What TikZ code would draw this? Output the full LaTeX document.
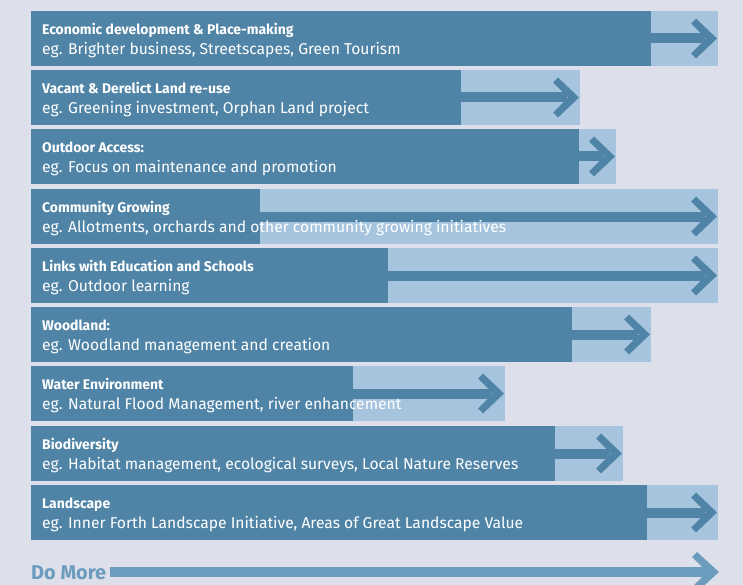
\documentclass[tikz,border=0pt]{standalone}
\usepackage{fontspec}
\setmainfont{Fira Sans}
\usetikzlibrary{calc}
\definecolor{bg}{HTML}{DDE0EA}
\definecolor{darkb}{HTML}{5084A7}
\definecolor{lightb}{HTML}{A6C4DE}
\definecolor{moreb}{HTML}{6B9BBD}
\tikzset{
  bar/.style={inner sep=0, outer sep=0, minimum height=55bp, anchor=north west},
  darkbar/.style={bar, fill=darkb},
  lightbar/.style={bar, fill=lightb},
  ttl/.style={anchor=base west, inner sep=0, text=white, font=\bfseries\fontsize{14}{15}\selectfont},
  sub/.style={anchor=base west, inner sep=0, text=white, font=\fontsize{15.7}{17}\selectfont},
}
\begin{document}
\begin{tikzpicture}[x=1bp,y=-1bp]
\fill[bg] (0,0) rectangle (743,585);
\useasboundingbox (0,0) rectangle (743,585);
\foreach \i/\t/\de/\le/\ti/\su in {
  1/11/651/718/{Economic development \& Place-making}/{eg. Brighter business, Streetscapes, Green Tourism},
  2/70/461/580/{Vacant \& Derelict Land re-use}/{eg. Greening investment, Orphan Land project},
  3/129/579/616/{Outdoor Access:}/{eg. Focus on maintenance and promotion},
  4/189/260/718/{Community Growing}/{eg. Allotments, orchards and other community growing initiatives},
  5/248/388/718/{Links with Education and Schools}/{eg. Outdoor learning},
  6/307/572/651/{Woodland:}/{eg. Woodland management and creation},
  7/366/353/505/{Water Environment}/{eg. Natural Flood Management, river enhancement},
  8/426/555/623/{Biodiversity}/{eg. Habitat management, ecological surveys, Local Nature Reserves},
  9/485/647/718/{Landscape}/{eg. Inner Forth Landscape Initiative, Areas of Great Landscape Value}}{
  \pgfmathsetmacro\barlw{\le-31}
  \pgfmathsetmacro\bardw{\de-31}
  \node[lightbar, minimum width=\barlw bp] (l\i) at (31,\t) {};
  \node[darkbar, minimum width=\bardw bp] (d\i) at (31,\t) {};
  \coordinate (tip\i) at ($(l\i.east)+(-1,0)$);
  \fill[darkb] ($(d\i.east)+(0,-5)$) rectangle ($(tip\i)+(-12,5)$);
  \fill[darkb] (tip\i) -- ++(-21,-20) -- ++(-5,5) -- ++(15,15) -- ++(-15,15) -- ++(5,5) -- cycle;
  \node[ttl] (t\i) at (42,{\t+23.5}) {\ti};
  \node[sub] (s\i) at (42,{\t+43.5}) {\su};
}
\node[anchor=base west, inner sep=0, text=moreb, font=\bfseries\fontsize{20}{22}\selectfont] (more) at (31,579) {Do More};
\coordinate (mstart) at (110,572);
\coordinate (mtip) at (719,572);
\fill[moreb] ($(mstart)+(0,-5)$) rectangle ($(mtip)+(-12,5)$);
\fill[moreb] (mtip) -- ++(-22,-20) -- ++(-5,5) -- ++(15,15) -- ++(-15,15) -- ++(5,5) -- cycle;
\end{tikzpicture}
\end{document}
